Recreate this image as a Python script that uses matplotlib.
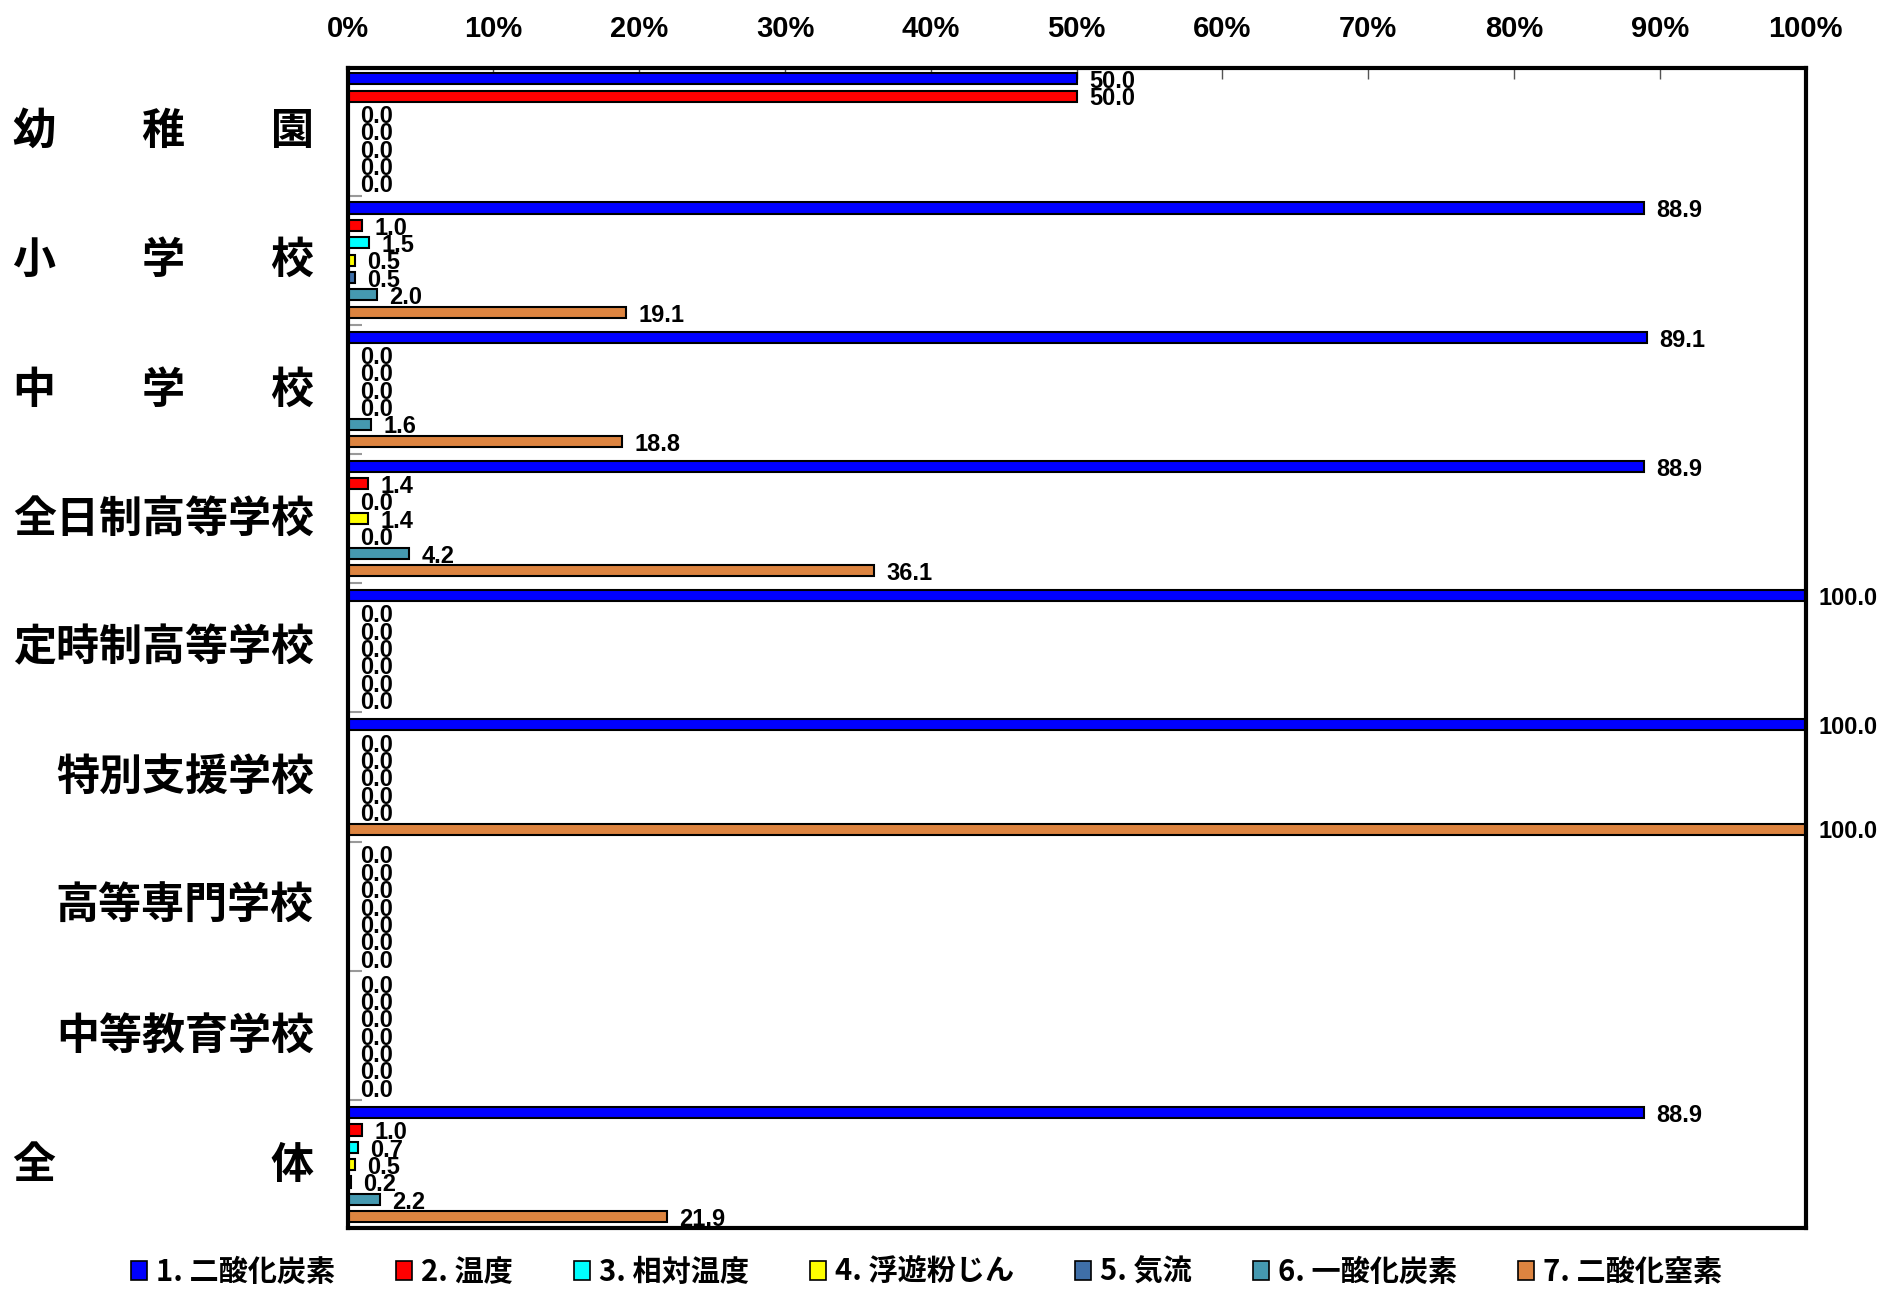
import matplotlib
matplotlib.use("Agg")
import matplotlib.pyplot as plt
import matplotlib.transforms as mtrans
import numpy as np
from matplotlib.patches import Patch

plt.rcParams['font.family'] = ['Noto Sans CJK JP', 'DejaVu Sans']

# categories (top to bottom)
categories = ['幼　　稚　　園', '小　　学　　校', '中　　学　　校', '全日制高等学校',
              '定時制高等学校', '特別支援学校', '高等専門学校', '中等教育学校',
              '全　　　　　体']

series_names = ['1. 二酸化炭素', '2. 温度', '3. 相対温度', '4. 浮遊粉じん',
                '5. 気流', '6. 一酸化炭素', '7. 二酸化窒素']

# values (%) per series
co2 = [50.0, 88.9, 89.1, 88.9, 100.0, 100.0, 0.0, 0.0, 88.9]
temp = [50.0, 1.0, 0.0, 1.4, 0.0, 0.0, 0.0, 0.0, 1.0]
humidity = [0.0, 1.5, 0.0, 0.0, 0.0, 0.0, 0.0, 0.0, 0.7]
dust = [0.0, 0.5, 0.0, 1.4, 0.0, 0.0, 0.0, 0.0, 0.5]
airflow = [0.0, 0.5, 0.0, 0.0, 0.0, 0.0, 0.0, 0.0, 0.2]
co = [0.0, 2.0, 1.6, 4.2, 0.0, 0.0, 0.0, 0.0, 2.2]
no2 = [0.0, 19.1, 18.8, 36.1, 0.0, 100.0, 0.0, 0.0, 21.9]

all_series = [co2, temp, humidity, dust, airflow, co, no2]
colors = ['#0000FF', '#FF0000', '#00FFFF', '#FFFF00', '#3F6FA8', '#4599B0', '#DD8440']

xticks = np.arange(0, 101, 10)
xticklabels = ['%d%%' % t for t in xticks]

# layout of bars (in bar slots)
group_step = 7.44
first_off = 0.6
bar_h = 0.64
n_groups = len(categories)
ymax = first_off + (n_groups - 1) * group_step + 6 + 0.65

fig = plt.figure(figsize=(18.79, 12.90), dpi=100)
ax = fig.add_axes([0.185, 0.048, 0.776, 0.899])

base = first_off + np.arange(n_groups) * group_step
for j, (vals, col) in enumerate(zip(all_series, colors)):
    y = base + j
    ax.barh(y, vals, height=bar_h, color=col, edgecolor='black', linewidth=1.5, zorder=2)
    for yy, v in zip(y, vals):
        ax.annotate('%.1f' % v, xy=(v, yy), xytext=(9, -2), textcoords='offset points',
                    ha='left', va='center', fontsize=17, fontweight='bold',
                    family='Liberation Sans', annotation_clip=False, zorder=3)

ax.set_xlim(0, 100)
ax.set_ylim(ymax, 0)

ax.xaxis.tick_top()
ax.set_xticks(xticks)
ax.set_xticklabels(xticklabels, fontsize=21, fontweight='bold', family='Liberation Sans')
ax.tick_params(axis='x', direction='in', length=8, width=1, color='#555555', pad=18)

# group boundary ticks
bounds = [(base[i] + 6 + base[i + 1]) / 2 for i in range(n_groups - 1)]
ax.set_yticks(bounds)
ax.set_yticklabels([])
ax.tick_params(axis='y', direction='in', length=10, width=1.5, color='#999999')

for s in ax.spines.values():
    s.set_linewidth(3)
    s.set_color('black')

# category labels
lab_trans = mtrans.blended_transform_factory(fig.transFigure, ax.transData)
for i, cat in enumerate(categories):
    ax.text(0.167, base[i] + 3, cat, transform=lab_trans,
            ha='right', va='center', fontsize=31, fontweight='bold')

handles = [Patch(facecolor=c, edgecolor='black', linewidth=1.2) for c in colors]
fig.legend(handles, series_names, loc='center', bbox_to_anchor=(0.493, 0.014), ncol=7,
           frameon=False, prop={'size': 21, 'weight': 'bold'},
           handlelength=0.55, handleheight=0.6, handletextpad=0.3, columnspacing=2.1)

fig.savefig('out.png', dpi=100)
